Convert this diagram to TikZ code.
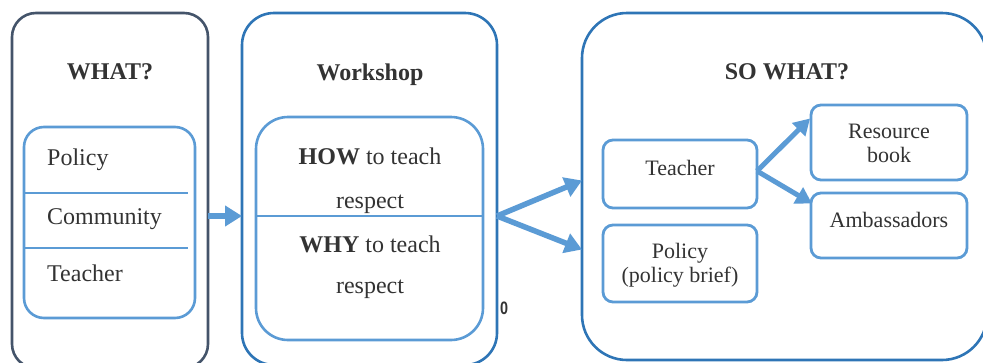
\documentclass[tikz,border=0pt]{standalone}
\usepackage{fontspec}
\setmainfont{Liberation Serif}
\newfontfamily\tagsans{Liberation Sans}
\usetikzlibrary{arrows.meta}
\definecolor{navy}{HTML}{44546A}
\definecolor{midblue}{HTML}{2E75B6}
\definecolor{lightblue}{HTML}{5B9BD5}
\definecolor{ink}{HTML}{333333}

\begin{document}
\begin{tikzpicture}[x=1pt,y=-1pt,
  frame/.style={draw=midblue, line width=2.6pt, inner sep=0pt, outer sep=0pt},
  panel/.style={draw=lightblue, line width=2.6pt, inner sep=0pt, outer sep=0pt},
  itembox/.style={draw=lightblue, line width=2.8pt, rounded corners=10pt, inner sep=0pt, outer sep=0pt},
  title/.style={font=\fontsize{24}{28}\selectfont\bfseries, text=ink, anchor=base, inner sep=0pt},
  body/.style={font=\fontsize{24}{28}\selectfont, text=ink, anchor=base, inner sep=0pt},
  small/.style={font=\fontsize{22}{24}\selectfont, text=ink, anchor=base, inner sep=0pt},
  arr/.style={draw=lightblue, line width=5.5pt, -{Triangle[length=17pt,width=20pt]}},
  thinarr/.style={draw=lightblue, line width=5pt, -{Triangle[length=16pt,width=18pt]}}]

\useasboundingbox (0,0) rectangle (983,362);
\clip (0,0) rectangle (983,362);
\fill[white] (0,0) rectangle (983,362);

% --- WHAT? column
\node[frame, draw=navy, rounded corners=24pt, minimum width=196pt, minimum height=355pt] (what) at (110,190.5) {};
\node[panel, rounded corners=20pt, minimum width=171pt, minimum height=191pt] (whatlist) at (109.5,222.5) {};
\coordinate (cutA) at (0,193);
\coordinate (cutB) at (0,248);
\draw[lightblue, line width=2.8pt] (cutA -| whatlist.west) -- ([xshift=-7pt]cutA -| whatlist.east);
\draw[lightblue, line width=1.4pt] (cutB -| whatlist.west) -- ([xshift=-7pt]cutB -| whatlist.east);
\node[title] (whatT) at (110,79) {WHAT?};
\node[body, anchor=base west] (wPolicy) at (47,165) {Policy};
\node[body, anchor=base west] (wCommunity) at (47,224) {Community};
\node[body, anchor=base west] (wTeacher) at (47,281) {Teacher};

% --- Workshop column
\node[frame, rounded corners=32pt, minimum width=255pt, minimum height=352pt] (workshop) at (369.5,189) {};
\node[panel, rounded corners=32pt, minimum width=227pt, minimum height=223pt] (wsinner) at (369.5,228.5) {};
\coordinate (wsmid) at (369.5,216);
\draw[lightblue, line width=1.6pt] (wsmid -| wsinner.west) -- (wsmid -| wsinner.east);
\node[title] (wsT) at (370,80) {Workshop};
\node[body] (how) at (370,164) {\textbf{HOW} to teach};
\node[body] (howB) at (370,208) {respect};
\node[body] (why) at (370,252) {\textbf{WHY} to teach};
\node[body] (whyB) at (370,293) {respect};
\node[font=\tagsans\bfseries\fontsize{18}{20}\selectfont, text=ink, inner sep=0pt, xscale=0.8] (zero) at (504,308) {0};

% --- SO WHAT? column
\node[frame, rounded corners=45pt, minimum width=405pt, minimum height=347pt] (sowhat) at (784.5,186.5) {};
\node[title] (soT) at (787,79) {SO WHAT?};
\node[itembox, minimum width=154pt, minimum height=68pt] (teacher) at (680,174) {};
\node[itembox, minimum width=154pt, minimum height=77pt] (policy) at (680,263.5) {};
\node[itembox, minimum width=156pt, minimum height=75pt] (resource) at (889,142.5) {};
\node[itembox, minimum width=156pt, minimum height=65pt] (ambass) at (889,225.5) {};
\node[small] (teacherT) at (680,175) {Teacher};
\node[small] (policyT) at (680,258) {Policy};
\node[small] (policyB) at (680,282) {(policy brief)};
\node[small] (resT) at (889,138) {Resource};
\node[small] (resB) at (889,162) {book};
\node[small] (ambT) at (889,227) {Ambassadors};

% --- connectors
\draw[arr] (what.east |- wsmid) -- (workshop.west |- wsmid);
\draw[arr] (workshop.east |- wsmid) -- ([yshift=6pt]sowhat.west);
\draw[arr] (workshop.east |- wsmid) -- ([yshift=-63pt]sowhat.west);
\draw[thinarr] ([yshift=3pt]teacher.east) -- ([yshift=24pt,xshift=-1pt]resource.west);
\draw[thinarr] ([yshift=3pt]teacher.east) -- ([yshift=22pt,xshift=1pt]ambass.west);
\end{tikzpicture}
\end{document}
